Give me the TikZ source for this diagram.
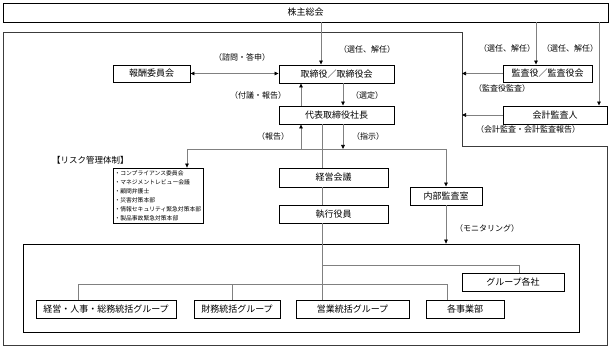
\documentclass[tikz,border=0pt]{standalone}
\usepackage{fontspec}
\setmainfont{Noto Sans CJK JP}
\usetikzlibrary{arrows.meta}
\definecolor{cgray}{RGB}{128,128,128}
\definecolor{fgray}{RGB}{60,60,60}
\begin{document}
\begin{tikzpicture}[x=1pt,y=-1pt,
  box/.style={draw=black,line width=0.9pt,fill=white,inner sep=0pt,font=\fontsize{9}{10}\selectfont},
  lbl/.style={inner sep=0pt,font=\fontsize{8}{9}\selectfont},
  conn/.style={draw=cgray,line width=0.7pt},
  tip/.style={},
  arr/.style={conn,-{Triangle[length=4pt,width=3.6pt,color=black]}},
  darr/.style={conn,{Triangle[length=4pt,width=3.6pt,color=black]}-{Triangle[length=4pt,width=3.6pt,color=black]}},
  frame/.style={draw=fgray,line width=0.8pt}
  ]
\useasboundingbox (0,0) rectangle (611,350);
% outer frame
\draw[frame] (3,32) -- (462,32) -- (462,146) -- (607,146) -- (607,345) -- (3,345) -- cycle;
% nodes
\node[box,minimum width=605pt,minimum height=19pt] (kabu) at (305.5,12.5) {株主総会};
\node[box,minimum width=77pt,minimum height=17pt] (hoshu) at (151.5,73.5) {報酬委員会};
\node[box,minimum width=115pt,minimum height=18pt] (tori) at (336.5,74) {取締役／取締役会};
\node[box,minimum width=115pt,minimum height=18pt] (daihyo) at (336.5,115) {代表取締役社長};
\node[box,minimum width=89pt,minimum height=17pt] (kansa) at (547.5,73.5) {監査役／監査役会};
\node[box,minimum width=104pt,minimum height=18pt] (kaikei) at (555,115) {会計監査人};
\node[box,minimum width=109pt,minimum height=19pt] (keiei) at (333.5,177.5) {経営会議};
\node[box,minimum width=109pt,minimum height=18pt] (shikko) at (333.5,214) {執行役員};
\node[box,minimum width=72pt,minimum height=18pt] (naibu) at (446,196) {内部監査室};
\node[box,line width=0.8pt,minimum width=90pt,minimum height=55pt,text width=87pt,align=left,inner sep=1.5pt,
      font=\fontsize{5.8}{9}\selectfont] (risk) at (158,195.5)
  {・コンプライアンス委員会\\・マネジメントレビュー会議\\・顧問弁護士\\・災害対策本部\\・情報セキュリティ緊急対策本部\\・製品事故緊急対策本部};
\node[lbl,anchor=west,font=\fontsize{8.5}{9}\selectfont] (risktitle) at (52,160) {【リスク管理体制】};
\node[draw=black,line width=0.8pt,minimum width=556pt,minimum height=88pt,inner sep=0pt] (inner) at (301,288) {};
\node[box,minimum width=140pt,minimum height=18pt] (grkei) at (106,309) {経営・人事・総務統括グループ};
\node[box,minimum width=86pt,minimum height=18pt] (grzai) at (237,309) {財務統括グループ};
\node[box,minimum width=113pt,minimum height=18pt] (greig) at (352.5,309) {営業統括グループ};
\node[box,minimum width=78pt,minimum height=18pt] (grkaku) at (465,309) {各事業部};
\node[box,minimum width=102pt,minimum height=18pt] (grgrp) at (513,282) {グループ各社};
% coordinates
\coordinate (a1) at (321,0);
\coordinate (a2) at (536,0);
\coordinate (a3) at (599,0);
\coordinate (f1) at (462,73.5);
\coordinate (f2) at (462,115);
\coordinate (jL) at (187,149);
\coordinate (jR) at (446,149);
\coordinate (jH) at (301,149);
\coordinate (jS) at (343,149);
\coordinate (mv) at (322,0);
\coordinate (g1) at (322,265);
\coordinate (g1e) at (519,265);
\coordinate (h1) at (78,284);
\coordinate (h2) at (447,284);
\coordinate (h3) at (232,284);
% connectors
\draw[arr] (a1 |- kabu.south) -- (a1 |- tori.north);
\draw[arr] (a2 |- kabu.south) -- (a2 |- kansa.north);
\draw[arr] (a3 |- kabu.south) -- (a3 |- kaikei.north);
\draw[darr] (hoshu.east) -- (hoshu.east -| tori.west);
\draw[arr] (kansa.west) -- (f1);
\draw[arr] (kaikei.west) -- (f2);
\draw[arr] (jH |- daihyo.north) -- (jH |- tori.south);
\draw[arr] (jS |- tori.south) -- (jS |- daihyo.north);
\draw[conn] (jL) -- (jR);
\draw[arr] (jL) -- (jL |- risk.north);
\draw[arr] (jR) -- (jR |- naibu.north);
\draw[arr] (jH) -- (jH |- daihyo.south);
\draw[arr] (jS |- daihyo.south) -- (jS);
\draw[conn] (mv |- daihyo.south) -- (mv |- keiei.north);
\draw[conn] (mv |- keiei.south) -- (mv |- shikko.north);
\draw[conn] (mv |- shikko.south) -- (mv |- greig.north);
\draw[arr] (naibu.south) -- (naibu.south |- inner.north);
\draw[conn] (g1) -- (g1e) -- (g1e |- grgrp.north);
\draw[conn] (h1 |- grkei.north) -- (h1) -- (h2) -- (h2 |- grkaku.north);
\draw[conn] (h3) -- (h3 |- grzai.north);
% labels
\node[lbl] (l1) at (367,49) {（選任、解任）};
\node[lbl] (l2) at (507,48) {（選任、解任）};
\node[lbl] (l3) at (570,48) {（選任、解任）};
\node[lbl] (l4) at (242,57) {（諮問・答申）};
\node[lbl] (l5) at (258,95) {（付議・報告）};
\node[lbl] (l6) at (367,95) {（選定）};
\node[lbl] (l7) at (273,136) {（報告）};
\node[lbl] (l8) at (368,136) {（指示）};
\node[lbl] (l9) at (502,88) {（監査役監査）};
\node[lbl] (l10) at (528,129) {（会計監査・会計監査報告）};
\node[lbl] (l11) at (487,228) {（モニタリング）};
\end{tikzpicture}
\end{document}
